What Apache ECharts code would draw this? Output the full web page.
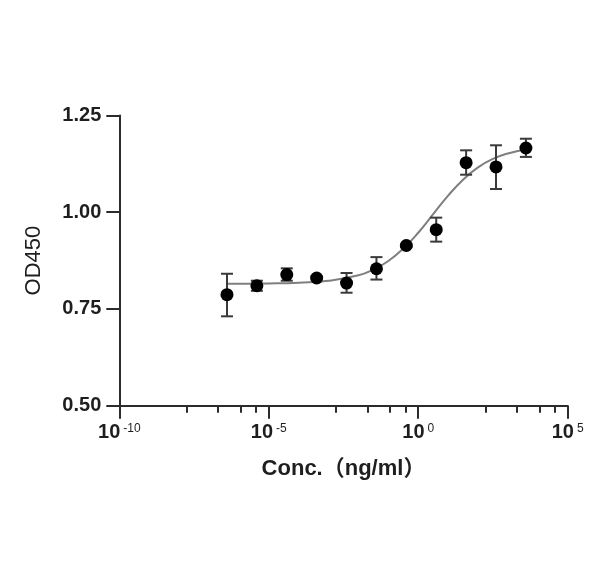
<!DOCTYPE html>
<html>
<head>
<meta charset="utf-8">
<script src="https://cdn.jsdelivr.net/npm/echarts@6/dist/echarts.min.js"></script>
<style>
html,body{margin:0;padding:0;background:#fff;}
#chart{width:600px;height:567px;}
</style>
</head>
<body>
<div id="chart"></div>
<script>
// Concentrations (ng/ml)
var concentrations = [4e-7, 4e-6, 4e-5, 4e-4, 4e-3, 4e-2, 0.4, 4, 40, 400, 4000];
// Mean OD450
var meanOD = [0.787, 0.810, 0.839, 0.830, 0.817, 0.854, 0.914, 0.955, 1.128, 1.117, 1.166];
// Error bar bounds
var errLow  = [0.731, 0.797, 0.823, 0.826, 0.792, 0.826, 0.910, 0.924, 1.097, 1.060, 1.143];
var errHigh = [0.841, 0.823, 0.855, 0.834, 0.843, 0.884, 0.918, 0.986, 1.160, 1.173, 1.190];
// Fitted curve (log10 conc, OD)
var curveLogX = [-6.4, -5, -4, -3, -2, -1.5, -1, -0.5, 0, 0.5, 1, 1.5, 2, 2.5, 3, 3.6];
var curveY    = [0.815, 0.816, 0.818, 0.823, 0.837, 0.852, 0.874, 0.906, 0.947, 0.995, 1.043, 1.084, 1.116, 1.138, 1.152, 1.163];
// Axis ticks
var xMajorExp = [-10, -5, 0, 5];
var xMinorOffsets = [2.25, 3.3, 4.05, 4.58];
var yTicks = [0.50, 0.75, 1.00, 1.25];

var FONT = '"Liberation Sans", Arial, "Noto Sans CJK SC", sans-serif';
var AX = '#2b2b2b';

var xMinor = [];
for (var i = 0; i < xMajorExp.length - 1; i++) {
  xMinorOffsets.forEach(function (o) { xMinor.push(xMajorExp[i] + o); });
}

var points = concentrations.map(function (c, i) { return [Math.log10(c), meanOD[i]]; });
var bars = concentrations.map(function (c, i) { return [Math.log10(c), errLow[i], errHigh[i]]; });
var curve = curveLogX.map(function (x, i) { return [x, curveY[i]]; });

var chart = echarts.init(document.getElementById('chart'), null, {renderer: 'canvas'});
chart.setOption({
  backgroundColor: '#fff',
  animation: false,
  grid: {left: 119.3, right: 32.3, top: 115.5, bottom: 161.3, containLabel: false},
  xAxis: [{
    type: 'value', min: -10, max: 5, interval: 5,
    name: 'Conc.（ng/ml）', nameLocation: 'middle', nameGap: 52,
    nameTextStyle: {fontFamily: FONT, fontSize: 22, fontWeight: 'bold', color: '#1e1e1e'},
    axisLine: {show: true, onZero: false, lineStyle: {color: AX, width: 2}},
    axisTick: {show: true, length: 13, lineStyle: {color: AX, width: 2}, customValues: xMajorExp},
    axisLabel: {
      margin: 16, customValues: xMajorExp,
      formatter: function (v) { return '{b|10}{s|' + v + '}'; },
      rich: {
        b: {fontFamily: FONT, fontSize: 20, fontWeight: 'bold', color: '#1e1e1e', lineHeight: 22},
        s: {fontFamily: FONT, fontSize: 12, color: '#1e1e1e', verticalAlign: 'top', lineHeight: 12, padding: [1, 0, 0, 3]}
      }
    },
    splitLine: {show: false}
  }, {
    type: 'value', min: -10, max: 5, position: 'bottom',
    axisLine: {show: false},
    axisTick: {show: true, length: 7, lineStyle: {color: AX, width: 2}, customValues: xMinor},
    axisLabel: {show: false},
    splitLine: {show: false}
  }],
  yAxis: {
    type: 'value', min: 0.5, max: 1.25, interval: 0.25,
    name: 'OD450', nameLocation: 'middle', nameGap: 74, nameRotate: 90,
    nameTextStyle: {fontFamily: FONT, fontSize: 22, color: '#1e1e1e'},
    axisLine: {show: true, onZero: false, lineStyle: {color: AX, width: 2}},
    axisTick: {show: true, length: 13, lineStyle: {color: AX, width: 2}},
    axisLabel: {margin: 18, fontFamily: FONT, fontSize: 20, fontWeight: 'bold', color: '#1e1e1e',
      formatter: function (v) { return v.toFixed(2); }},
    splitLine: {show: false}
  },
  series: [{
    type: 'line', data: curve, smooth: true, showSymbol: false, symbol: 'none',
    lineStyle: {color: '#7f7f7f', width: 2}, z: 1
  }, {
    type: 'custom', data: bars, z: 2,
    renderItem: function (params, api) {
      var x = api.value(0);
      var lo = api.coord([x, api.value(1)]);
      var hi = api.coord([x, api.value(2)]);
      var hw = 6;
      var style = {stroke: '#3a3a3a', lineWidth: 2};
      return {type: 'group', children: [
        {type: 'line', shape: {x1: lo[0], y1: lo[1], x2: hi[0], y2: hi[1]}, style: style},
        {type: 'line', shape: {x1: lo[0] - hw, y1: lo[1], x2: lo[0] + hw, y2: lo[1]}, style: style},
        {type: 'line', shape: {x1: hi[0] - hw, y1: hi[1], x2: hi[0] + hw, y2: hi[1]}, style: style}
      ]};
    }
  }, {
    type: 'scatter', data: points, symbol: 'circle', symbolSize: 13,
    itemStyle: {color: '#000', opacity: 1}, z: 3
  }]
});
</script>
</body>
</html>
